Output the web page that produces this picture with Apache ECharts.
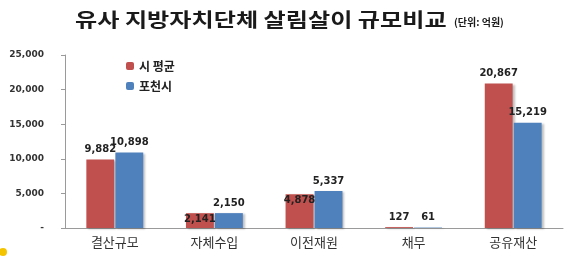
<!DOCTYPE html>
<html><head><meta charset="utf-8">
<script src="https://cdn.jsdelivr.net/npm/echarts@6/dist/echarts.min.js"></script>
<style>html,body{margin:0;padding:0;background:#fff}#c{width:580px;height:257px}</style>
</head><body><div id="c"></div>
<script>
const categories = ['결산규모', '자체수입', '이전재원', '채무', '공유재산'];
const cityAvg = [9882, 2141, 4878, 127, 20867];
const pocheon = [10898, 2150, 5337, 61, 15219];
const seriesNames = ['시 평균', '포천시'];
const titleText = '유사 지방자치단체 살림살이 규모비교';
const unitText = '(단위: 억원)';

const font = '"Noto Sans CJK KR", sans-serif';
const numFont = '"DejaVu Sans", sans-serif';
const fmt = v => v === 0 ? '-' : v.toLocaleString('en-US');
const insideRed = [1, 2];
const labelBase = {show: true, position: 'top', formatter: p => fmt(p.value),
  fontFamily: numFont, fontSize: 10, fontWeight: 'bold', color: '#222'};
const redData = cityAvg.map((v, i) => insideRed.includes(i)
  ? {value: v, label: {position: 'insideTop', distance: 1}} : v);

const chart = echarts.init(document.getElementById('c'), null, {renderer: 'canvas'});
chart.setOption({
  animation: false,
  legend: {
    orient: 'vertical', left: 121, top: 55, itemWidth: 8, itemHeight: 8, itemGap: 8,
    textStyle: {fontFamily: font, fontSize: 12, fontWeight: 'bold', color: '#222'},
    data: seriesNames
  },
  grid: {left: 65, right: 17, top: 55, bottom: 29},
  xAxis: {
    type: 'category', data: categories,
    axisLine: {lineStyle: {color: '#9a9a9a'}},
    axisTick: {show: false},
    axisLabel: {fontFamily: font, fontSize: 13, color: '#333', margin: 8}
  },
  yAxis: {
    type: 'value', min: 0, max: 25000, interval: 5000,
    axisLine: {show: true, lineStyle: {color: '#9a9a9a'}},
    axisTick: {show: true, length: 4, lineStyle: {color: '#9a9a9a'}},
    splitLine: {show: false},
    axisLabel: {fontFamily: numFont, fontSize: 9, fontWeight: 'bold', color: '#333', margin: 21, formatter: fmt}
  },
  series: [
    {name: seriesNames[0], type: 'bar', data: redData, barWidth: '28%', barGap: '4%',
      itemStyle: {color: '#C0504D', shadowColor: 'rgba(0,0,0,0.25)', shadowOffsetX: 2, shadowOffsetY: 1, shadowBlur: 2},
      label: Object.assign({}, labelBase, {distance: 5})},
    {name: seriesNames[1], type: 'bar', data: pocheon, barWidth: '28%',
      itemStyle: {color: '#4F81BD', shadowColor: 'rgba(0,0,0,0.25)', shadowOffsetX: 2, shadowOffsetY: 1, shadowBlur: 2},
      label: Object.assign({}, labelBase, {distance: 5})}
  ],
  graphic: [
    {type: 'text', left: 75, top: 10, scaleX: 1.27, originX: 0,
      style: {text: titleText, fontFamily: font, fontSize: 19, fontWeight: 'bold', fill: '#1a1a1a'}},
    {type: 'text', left: 454, top: 17,
      style: {text: unitText, fontFamily: font, fontSize: 10, fontWeight: 'bold', fill: '#1a1a1a'}},
    {type: 'circle', shape: {cx: 3, cy: 252, r: 4}, style: {fill: '#f5c400'}}
  ]
});
</script></body></html>
